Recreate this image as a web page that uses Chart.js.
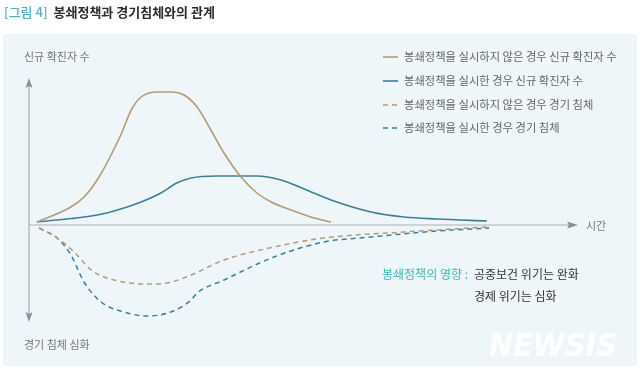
<!DOCTYPE html>
<html><head><meta charset="utf-8">
<script src="https://cdn.jsdelivr.net/npm/chart.js@4/dist/chart.umd.min.js"></script>
<style>html,body{margin:0;padding:0;background:#fff;}canvas{display:block;}</style>
</head><body>
<canvas id="c" width="640" height="371"></canvas>
<script>
const titleTag = '[그림 4]';
const titleText = '봉쇄정책과 경기침체와의 관계';
const yTopLabel = '신규 확진자 수';
const yBottomLabel = '경기 침체 심화';
const xLabel = '시간';
const seriesLabels = [
  '봉쇄정책을 실시하지 않은 경우 신규 확진자 수',
  '봉쇄정책을 실시한 경우 신규 확진자 수',
  '봉쇄정책을 실시하지 않은 경우 경기 침체',
  '봉쇄정책을 실시한 경우 경기 침체'
];
const noteLabel = '봉쇄정책의 영향 :';
const noteLines = ['공중보건 위기는 완화', '경제 위기는 심화'];

const casesNoLockdown = [[0.7,3],[6.9,18],[9.3,28],[11.7,45],[16.0,90],[17.9,115],[19.7,128],[22.6,133],[25.1,133],[27.5,130],[29.9,118],[32.4,95],[34.8,72],[37.9,48],[40.8,32],[43.4,23],[47.0,15],[50.6,8],[54.3,3]];
const casesLockdown = [[0.7,3],[11.7,10],[16.0,16],[19.7,23],[23.3,32],[26.2,42],[28.8,47],[33.5,49],[40.8,49],[45.2,45],[49.4,36],[54.3,25],[61.6,13],[67.6,8],[73.6,6],[82.7,4]];
const econNoLockdown = [[1.1,-3],[4.4,-13],[7.5,-27],[10.6,-45],[13.5,-53],[20.8,-59],[24.4,-58],[28.8,-50],[34.8,-35],[43.9,-22],[53.0,-13],[67.6,-7],[82.7,-2]];
const econLockdown = [[1.1,-3],[4.4,-13],[6.9,-30],[9.3,-57],[12.4,-77],[16.6,-87],[20.8,-91],[25.1,-87],[28.8,-75],[29.9,-68],[34.8,-55],[43.9,-32],[53.0,-17],[61.6,-12],[73.6,-6],[83.1,-3]];

const TAN = '#b39b77';
const BLUE = '#3d7f9a';
const AXIS = '#a9adb1';
const FONT = '"Noto Sans CJK KR", "Noto Sans", sans-serif';

function pts(a){ return a.map(p => ({x:p[0], y:p[1]})); }

const overlay = {
  id: 'overlay',
  beforeDraw(chart) {
    const ctx = chart.ctx;
    ctx.save();
    ctx.fillStyle = '#fff';
    ctx.fillRect(0,0,chart.width,chart.height);
    ctx.fillStyle = '#eef6fa';
    ctx.fillRect(3,34,634,332);
    // title
    ctx.textBaseline = 'alphabetic';
    ctx.font = '500 13px ' + FONT;
    ctx.fillStyle = '#55aebf';
    ctx.fillText(titleTag, 4, 17);
    const w = ctx.measureText(titleTag).width;
    ctx.font = 'bold 13px ' + FONT;
    ctx.fillStyle = '#2b2b2b';
    ctx.fillText(titleText, 4 + w + 6, 17);
    // watermark
    ctx.font = 'italic bold 34px "DejaVu Sans", sans-serif';
    const ww = ctx.measureText('NEWSIS').width;
    ctx.translate(489, 356);
    ctx.scale(128 / ww, 0.92);
    ctx.fillStyle = 'rgba(255,255,255,0.9)';
    ctx.fillText('NEWSIS', 0, 0);
    ctx.restore();
  },
  afterDraw(chart) {
    const ctx = chart.ctx;
    const xs = chart.scales.x, ys = chart.scales.y;
    const x0 = xs.getPixelForValue(0) - 4;
    const y0 = ys.getPixelForValue(0);
    const yTop = ys.top, yBot = ys.bottom, xEnd = xs.right;
    ctx.save();
    ctx.strokeStyle = AXIS; ctx.fillStyle = '#8a8f94'; ctx.lineWidth = 1.2;
    ctx.beginPath();
    ctx.moveTo(x0, yTop + 6); ctx.lineTo(x0, yBot - 6);
    ctx.moveTo(x0, y0); ctx.lineTo(xEnd - 8, y0);
    ctx.stroke();
    // arrow heads
    ctx.beginPath();
    ctx.moveTo(x0, yTop); ctx.lineTo(x0 - 3.5, yTop + 10); ctx.lineTo(x0, yTop + 8); ctx.lineTo(x0 + 3.5, yTop + 10); ctx.closePath();
    ctx.moveTo(x0, yBot); ctx.lineTo(x0 - 3.5, yBot - 10); ctx.lineTo(x0, yBot - 8); ctx.lineTo(x0 + 3.5, yBot - 10); ctx.closePath();
    ctx.moveTo(xEnd, y0); ctx.lineTo(xEnd - 11, y0 - 3.5); ctx.lineTo(xEnd - 9, y0); ctx.lineTo(xEnd - 11, y0 + 3.5); ctx.closePath();
    ctx.fill();
    // axis labels
    ctx.font = '11px ' + FONT;
    ctx.fillStyle = '#777';
    ctx.textBaseline = 'middle';
    ctx.fillText(yTopLabel, 24, 57);
    ctx.fillText(yBottomLabel, 24, 345);
    ctx.fillText(xLabel, xEnd + 8, y0 + 1);
    // legend
    const ly = [57, 81, 105, 128];
    ctx.font = '11.3px ' + FONT;
    chart.data.datasets.forEach((ds, i) => {
      ctx.strokeStyle = ds.borderColor;
      ctx.lineWidth = 1.6;
      ctx.setLineDash(ds.borderDash || []);
      ctx.beginPath(); ctx.moveTo(383, ly[i]); ctx.lineTo(398, ly[i]); ctx.stroke();
      ctx.setLineDash([]);
      ctx.fillStyle = '#666';
      ctx.fillText(ds.label, 404, ly[i]);
    });
    // note
    ctx.font = '12px ' + FONT;
    ctx.fillStyle = '#3fb5b0';
    ctx.fillText(noteLabel, 382, 274);
    ctx.fillStyle = '#333';
    ctx.fillText(noteLines[0], 474, 274);
    ctx.fillText(noteLines[1], 474, 296);
    ctx.restore();
  }
};

new Chart(document.getElementById('c'), {
  type: 'line',
  data: {
    datasets: [
      {label: seriesLabels[0], data: pts(casesNoLockdown), borderColor: TAN, borderWidth: 1.6},
      {label: seriesLabels[1], data: pts(casesLockdown), borderColor: BLUE, borderWidth: 1.6},
      {label: seriesLabels[2], data: pts(econNoLockdown), borderColor: TAN, borderWidth: 1.5, borderDash: [5,4]},
      {label: seriesLabels[3], data: pts(econLockdown), borderColor: BLUE, borderWidth: 1.5, borderDash: [5,4]}
    ]
  },
  options: {
    responsive: false,
    animation: false,
    layout: {padding: {left: 33, right: 62, top: 78, bottom: 49}},
    elements: {point: {radius: 0}, line: {tension: 0.4, cubicInterpolationMode: 'monotone', fill: false}},
    plugins: {legend: {display: false}, tooltip: {enabled: false}},
    scales: {
      x: {type: 'linear', min: 0, max: 99.3, display: false},
      y: {min: -97, max: 147, display: false}
    }
  },
  plugins: [overlay]
});
</script>
</body></html>
